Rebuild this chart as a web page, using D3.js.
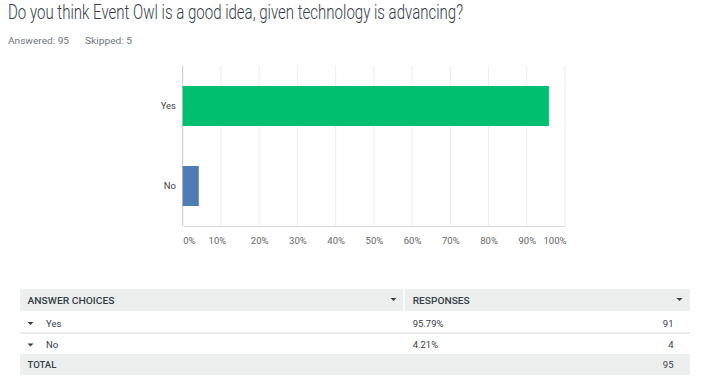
<!DOCTYPE html>
<html>
<head>
<meta charset="utf-8">
<script src="https://cdn.jsdelivr.net/npm/d3@7"></script>
<style>
  html, body { margin: 0; padding: 0; background: #fff; }
  svg { display: block; font-family: Roboto, 'Noto Sans', sans-serif; }
</style>
</head>
<body>
<div id="chart"></div>
<script>
const title = 'Do you think Event Owl is a good idea, given technology is advancing?'
const answered = 95
const skipped = 5
const choices = ['Yes', 'No']
const percents = [95.79, 4.21]
const counts = [91, 4]
const percentLabels = ['95.79%', '4.21%']
const total = 95
const barColors = ['#00bf6f', '#507cb6']
const xTicks = [0, 10, 20, 30, 40, 50, 60, 70, 80, 90, 100]

const W = 711, H = 387
const PLOT = { left: 182.7, right: 565, top: 66, bottom: 226 }
const TEXT = '#333e48'
const SMALL = '9.5px'

const svg = d3.select('#chart').append('svg').attr('width', W).attr('height', H)

// ── Heading ────────────────────────────────────────────────────────────────
svg.append('text').attr('x', 8).attr('y', 18.5).text(title)
  .attr('fill', TEXT).style('font-size', '20px').style('font-weight', 300)
  .attr('textLength', 455).attr('lengthAdjust', 'spacingAndGlyphs')

svg.append('text').attr('x', 8).attr('y', 44).text(`Answered: ${answered}`)
  .attr('fill', '#6b787f').style('font-size', '8.5px')
  .attr('textLength', 61).attr('lengthAdjust', 'spacingAndGlyphs')
svg.append('text').attr('x', 85).attr('y', 44).text(`Skipped: ${skipped}`)
  .attr('fill', '#6b787f').style('font-size', '8.5px')
  .attr('textLength', 47).attr('lengthAdjust', 'spacingAndGlyphs')

// ── Scales ─────────────────────────────────────────────────────────────────
const x = d3.scaleLinear().domain([0, 100]).range([PLOT.left, PLOT.right])
const y = d3.scaleBand().domain(choices).range([PLOT.top, PLOT.bottom])
  .paddingInner(0.5).paddingOuter(0.25)

// gridlines
svg.append('g').selectAll('line').data(xTicks.slice(1)).join('line')
  .attr('x1', d => x(d)).attr('x2', d => x(d))
  .attr('y1', PLOT.top).attr('y2', PLOT.bottom)
  .attr('stroke', '#ececec').attr('stroke-width', 1)

// bottom axis
const xAxis = svg.append('g').attr('transform', `translate(0,${PLOT.bottom})`)
  .call(d3.axisBottom(x).tickValues(xTicks).tickSize(0).tickPadding(11).tickFormat(d => d + '%'))
xAxis.select('.domain').attr('stroke', '#dcdcdc')
xAxis.selectAll('text')
  .attr('fill', '#666').style('font-size', SMALL).style('font-family', 'Roboto, sans-serif')
  .attr('text-anchor', d => d === 0 ? 'start' : d === 100 ? 'end' : 'middle')
  .attr('dx', d => d === 0 ? '0' : d === 100 ? '1' : d === 10 ? '-4' : '0')

// left axis line
svg.append('line').attr('x1', PLOT.left).attr('x2', PLOT.left)
  .attr('y1', PLOT.top).attr('y2', PLOT.bottom).attr('stroke', '#c8c8c8')

// bars
svg.append('g').selectAll('rect').data(choices).join('rect')
  .attr('x', x(0)).attr('y', d => y(d))
  .attr('width', (d, i) => x(percents[i]) - x(0))
  .attr('height', y.bandwidth())
  .attr('fill', (d, i) => barColors[i])

// category labels
svg.append('g').selectAll('text').data(choices).join('text')
  .attr('x', 176).attr('y', d => y(d) + y.bandwidth() / 2 + 3)
  .attr('text-anchor', 'end').text(d => d)
  .attr('fill', '#444').style('font-size', SMALL)

// ── Table ──────────────────────────────────────────────────────────────────
const T = { left: 20, right: 690, split: 404, head: 289, headH: 22, rowH: 21.5 }
const table = svg.append('g')

function arrow(cx, cy) {
  table.append('path').attr('d', `M${cx - 3},${cy - 1.5}L${cx + 3},${cy - 1.5}L${cx},${cy + 1.5}Z`).attr('fill', '#333e48')
}

table.append('rect').attr('x', T.left).attr('y', T.head).attr('width', T.right - T.left).attr('height', T.headH).attr('fill', '#edeeee')
table.append('line').attr('x1', T.split).attr('x2', T.split).attr('y1', T.head).attr('y2', T.head + T.headH).attr('stroke', '#fff').attr('stroke-width', 1.5)
table.append('text').attr('x', 27.5).attr('y', 304).text('ANSWER CHOICES')
  .attr('fill', TEXT).style('font-size', SMALL).style('font-weight', 500)
  .attr('textLength', 87).attr('lengthAdjust', 'spacingAndGlyphs')
table.append('text').attr('x', 412.7).attr('y', 304).text('RESPONSES')
  .attr('fill', TEXT).style('font-size', SMALL).style('font-weight', 500)
  .attr('textLength', 57).attr('lengthAdjust', 'spacingAndGlyphs')
arrow(393.5, 299.5)
arrow(679.5, 299.5)

const rowTop = T.head + T.headH
choices.forEach((c, i) => {
  const base = rowTop + i * T.rowH + 15.5
  arrow(30.5, base - 3)
  table.append('text').attr('x', 46).attr('y', base).text(c)
    .attr('fill', TEXT).style('font-size', SMALL)
  table.append('text').attr('x', 412.7).attr('y', base).text(percentLabels[i])
    .attr('fill', TEXT).style('font-size', SMALL)
  table.append('text').attr('x', 673.5).attr('y', base).attr('text-anchor', 'end').text(counts[i])
    .attr('fill', TEXT).style('font-size', SMALL)
})
table.append('line').attr('x1', T.left).attr('x2', T.right)
  .attr('y1', rowTop + T.rowH + 0.5).attr('y2', rowTop + T.rowH + 0.5)
  .attr('stroke', '#d5d7d8')

const totTop = rowTop + 2 * T.rowH
table.append('rect').attr('x', T.left).attr('y', totTop).attr('width', T.right - T.left).attr('height', 21).attr('fill', '#edeeee')
table.append('text').attr('x', 27.5).attr('y', totTop + 13.5).text('TOTAL')
  .attr('fill', TEXT).style('font-size', SMALL).style('font-weight', 500)
table.append('text').attr('x', 673.5).attr('y', totTop + 13.5).attr('text-anchor', 'end').text(total)
  .attr('fill', TEXT).style('font-size', SMALL)
</script>
</body>
</html>
